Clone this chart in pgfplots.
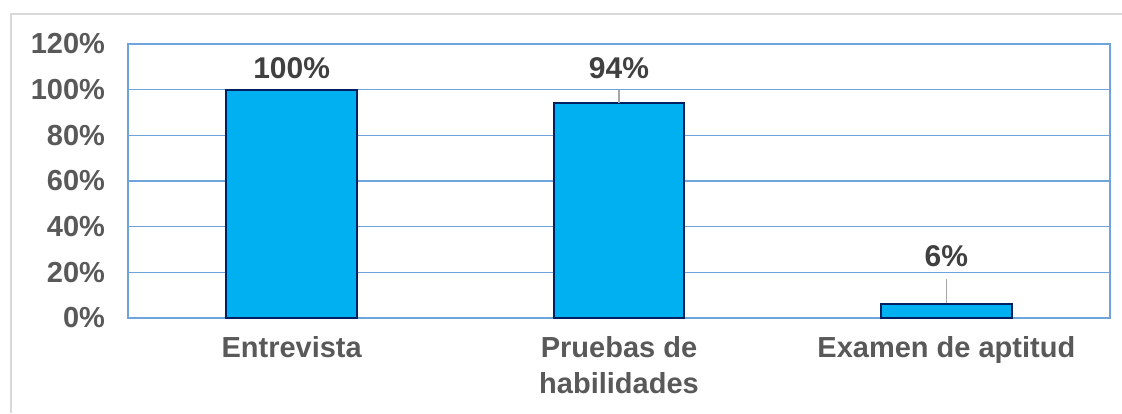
\documentclass[border=0pt]{standalone}
\usepackage{pgfplots}
\pgfplotsset{compat=1.18}
\usepackage{pgfplotstable}
\usepackage{fontspec}
\setmainfont{Liberation Sans}
\definecolor{barblue}{HTML}{00B0F0}
\definecolor{barnavy}{HTML}{002060}
\definecolor{gridblue}{HTML}{6FA3DC}
\definecolor{txtgray}{HTML}{595959}
\definecolor{lblgray}{HTML}{404040}
\definecolor{leader}{HTML}{A6A6A6}
\definecolor{frame}{HTML}{D9D9D9}

\pgfplotstableread{
x v
0 100
1 94
2 6
}\bars
\pgfplotstableread{
x y v
0 109.5 100
1 109.5 94
2 27 6
}\labels

\begin{document}
\begin{tikzpicture}
\useasboundingbox (0,0) rectangle (561pt,206.5pt);
\draw[frame, line width=0.8pt] (5.5pt,0) -- (5.5pt,199.5pt) -- (561pt,199.5pt);
\begin{axis}[
  at={(64pt,47.5pt)}, anchor=south west,
  scale only axis, width=491pt, height=137pt,
  xmin=-0.5, xmax=2.5, ymin=0, ymax=120,
  xtick={0,1,2},
  xticklabels={Entrevista,{Pruebas de\\habilidades},Examen de aptitud},
  ytick={0,20,40,60,80,100,120},
  yticklabels={0\%,20\%,40\%,60\%,80\%,100\%,120\%},
  major tick length=0pt,
  axis line style={gridblue, line width=1pt},
  ymajorgrids, grid style={gridblue, line width=0.75pt},
  tick label style={font=\fontsize{14.5}{18}\selectfont\bfseries, text=txtgray},
  xticklabel style={align=center, anchor=north, yshift=-5.5pt},
  yticklabel style={anchor=east, xshift=-8pt},
  /pgf/number format/assume math mode=true,
  clip=false,
]
\addplot[ybar, bar width=0.4, fill=barblue, draw=barnavy, line width=1pt] table[x=x, y=v] {\bars};
\addplot[leader, line width=0.6pt] coordinates {(1,100) (1,94)};
\addplot[leader, line width=0.6pt] coordinates {(2,17) (2,6.6)};
\addplot[draw=none, mark=none, nodes near coords={\pgfmathprintnumber[assume math mode=true]{\pgfplotspointmeta}\%},
  point meta=explicit,
  nodes near coords style={anchor=center, font=\fontsize{15}{17}\selectfont\bfseries, text=lblgray}]
  table[x=x, y=y, meta=v] {\labels};
\end{axis}
\end{tikzpicture}
\end{document}
